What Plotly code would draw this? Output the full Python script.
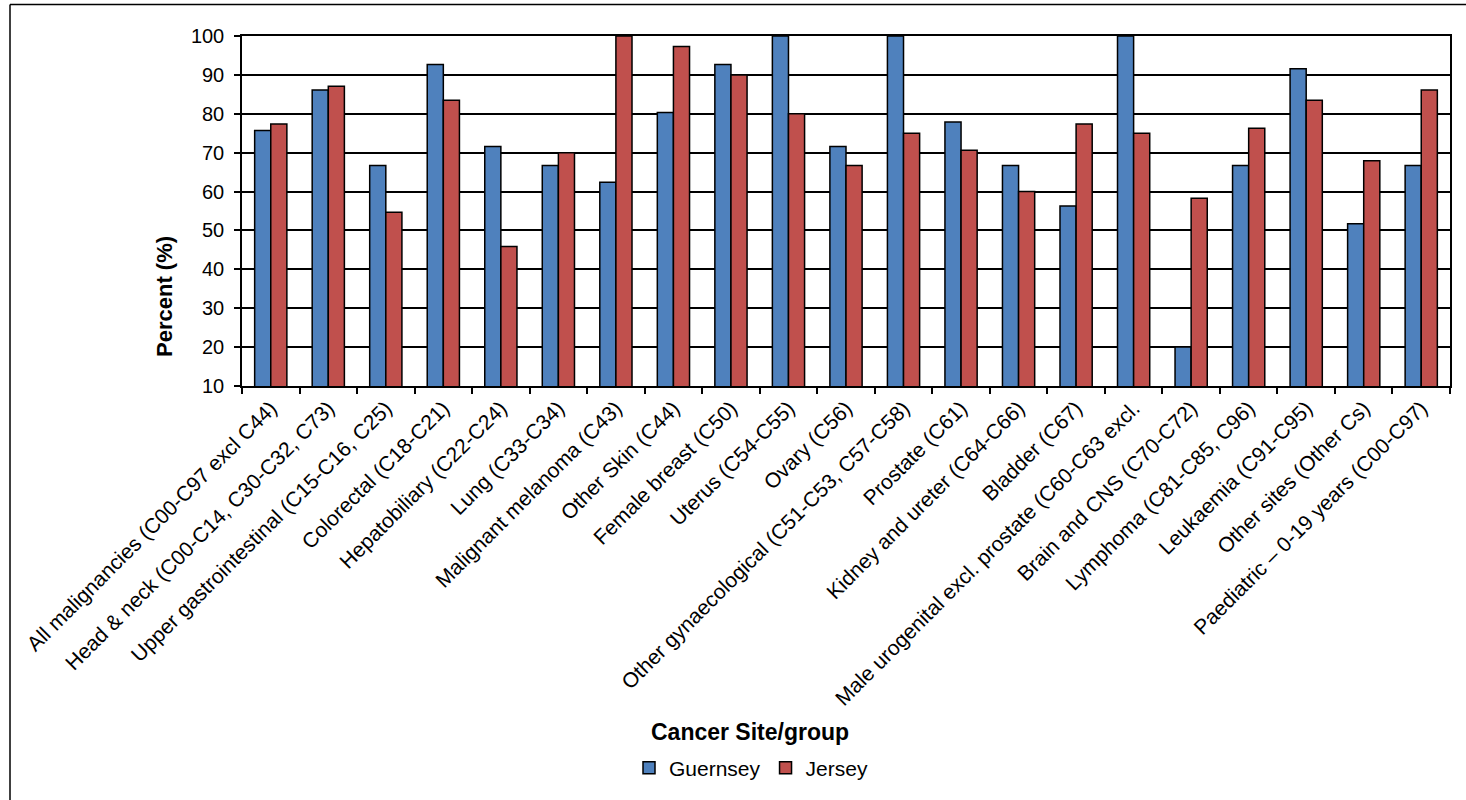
import plotly.graph_objects as go

categories = [
    "All malignancies (C00-C97 excl C44)",
    "Head & neck (C00-C14, C30-C32, C73)",
    "Upper gastrointestinal (C15-C16, C25)",
    "Colorectal (C18-C21)",
    "Hepatobiliary (C22-C24)",
    "Lung (C33-C34)",
    "Malignant melanoma (C43)",
    "Other Skin (C44)",
    "Female breast (C50)",
    "Uterus (C54-C55)",
    "Ovary (C56)",
    "Other gynaecological (C51-C53, C57-C58)",
    "Prostate (C61)",
    "Kidney and ureter (C64-C66)",
    "Bladder (C67)",
    "Male urogenital excl. prostate (C60-C63 excl.",
    "Brain and CNS (C70-C72)",
    "Lymphoma (C81-C85, C96)",
    "Leukaemia (C91-C95)",
    "Other sites (Other Cs)",
    "Paediatric – 0-19 years (C00-C97)",
]
guernsey = [75.7, 86.1, 66.7, 92.7, 71.6, 66.7, 62.4, 80.3, 92.7, 100, 71.6,
            100, 77.9, 66.7, 56.3, 100, 20.0, 66.7, 91.6, 51.7, 66.7]
jersey = [77.4, 87.1, 54.7, 83.5, 45.9, 70.0, 100, 97.3, 90.0, 80.0, 66.7,
          75.0, 70.6, 60.0, 77.4, 75.0, 58.3, 76.3, 83.5, 67.9, 86.1]
y_ticks = [10, 20, 30, 40, 50, 60, 70, 80, 90, 100]

FONT = "Arial, Liberation Sans, sans-serif"
BLUE = "#4F81BD"
RED = "#C0504D"

fig = go.Figure()
fig.add_trace(go.Bar(name="Guernsey", x=categories, y=guernsey, base=0,
                     marker=dict(color=BLUE, line=dict(color="black", width=1.5))))
fig.add_trace(go.Bar(name="Jersey", x=categories, y=jersey, base=0,
                     marker=dict(color=RED, line=dict(color="black", width=1.5))))

L, R, T, B = 242, 1450, 36, 386
W, H = 1466, 800
pw, ph = R - L, B - T

fig.update_layout(
    width=W, height=H,
    margin=dict(l=L, r=W - R, t=T, b=H - B, autoexpand=False),
    paper_bgcolor="white", plot_bgcolor="white",
    barmode="group", bargap=0.44, bargroupgap=0.0,
    font=dict(family=FONT, color="black"),
    showlegend=True,
    legend=dict(orientation="h", x=(751 - L) / pw, xanchor="center",
                y=(B - 768) / ph, yanchor="middle",
                font=dict(size=21, family=FONT), itemwidth=30,
                traceorder="normal", bgcolor="rgba(0,0,0,0)"),
    xaxis=dict(type="category", tickangle=-45, tickfont=dict(size=21, family=FONT),
               showline=True, linecolor="black", linewidth=1.5, mirror=True,
               ticks="outside", ticklen=6, tickcolor="black", tickwidth=1.5,
               tickson="boundaries", showgrid=False),
    yaxis=dict(range=[10, 100], tickvals=y_ticks, tickfont=dict(size=20, family=FONT),
               showline=True, linecolor="black", linewidth=1.5, mirror=True,
               ticks="outside", ticklen=6, tickcolor="black", tickwidth=1.5,
               ticklabelstandoff=6,
               showgrid=True, gridcolor="black", gridwidth=1.5, zeroline=False),
    annotations=[
        dict(text="<b>Percent (%)</b>", xref="paper", yref="paper",
             x=(164 - L) / pw, y=(B - 297) / ph, xanchor="center", yanchor="middle",
             textangle=-90, showarrow=False, font=dict(size=22, family=FONT)),
        dict(text="<b>Cancer Site/group</b>", xref="paper", yref="paper",
             x=(750 - L) / pw, y=(B - 732) / ph, xanchor="center", yanchor="middle",
             showarrow=False, font=dict(size=23, family=FONT)),
    ],
    shapes=[
        dict(type="line", xref="paper", yref="paper",
             x0=(10 - L) / pw, x1=(10 - L) / pw, y0=(B - 4.5) / ph, y1=(B - 800) / ph,
             line=dict(color="black", width=1.5)),
        dict(type="line", xref="paper", yref="paper",
             x0=(10 - L) / pw, x1=(1466 - L) / pw, y0=(B - 4.5) / ph, y1=(B - 4.5) / ph,
             line=dict(color="black", width=1.5)),
    ],
)

fig.write_html("out.html", config={"displayModeBar": False},
               post_script="document.body.style.margin='0';")
